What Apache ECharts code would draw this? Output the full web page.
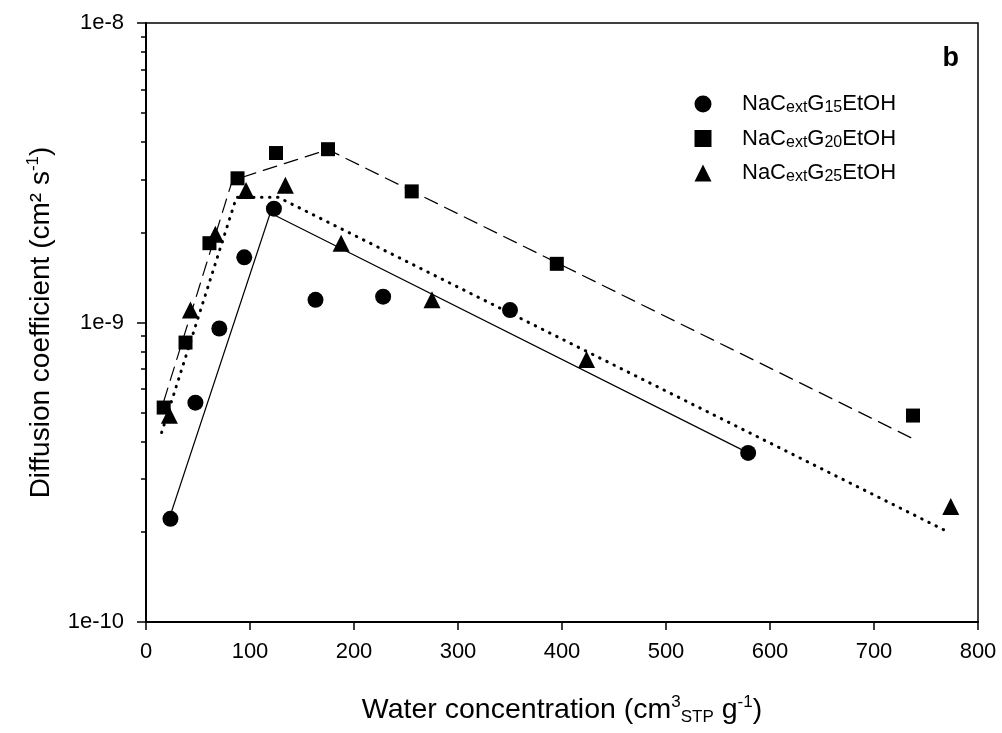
<!DOCTYPE html>
<html>
<head>
<meta charset="utf-8">
<title>Diffusion coefficient vs water concentration</title>
<script src="https://cdn.jsdelivr.net/npm/echarts@6/dist/echarts.min.js"></script>
<style>
  html, body { margin: 0; padding: 0; background: #fff; }
  #main { width: 1002px; height: 733px; }
</style>
</head>
<body>
<div id="main"></div>
<script>
// measured points (x: cm3 STP/g, y: cm2/s)
var g15X = [23.5, 47.5, 70.5, 94.5, 123, 163, 228, 350, 579];
var g15Y = [2.21e-10, 5.4e-10, 9.55e-10, 1.65e-9, 2.4e-9, 1.19e-9, 1.22e-9, 1.1e-9, 3.67e-10];
var g20X = [17, 38, 61, 88, 125, 175, 255.5, 395, 737.5];
var g20Y = [5.2e-10, 8.57e-10, 1.84e-9, 3.03e-9, 3.68e-9, 3.79e-9, 2.74e-9, 1.57e-9, 4.89e-10];
var g25X = [22.5, 42.7, 66.7, 96.2, 134, 187.6, 275, 423.6, 773.8];
var g25Y = [4.9e-10, 1.1e-9, 1.97e-9, 2.76e-9, 2.87e-9, 1.84e-9, 1.19e-9, 7.52e-10, 2.43e-10];

// fitted lines (break points)
var fit15X = [23, 119.5, 579];
var fit15Y = [2.25e-10, 2.32e-9, 3.67e-10];
var fit20X = [17, 83, 175, 737];
var fit20Y = [5.45e-10, 2.98e-9, 3.78e-9, 4.1e-10];
var fit25X = [15, 87, 127, 771];
var fit25Y = [4.29e-10, 2.62e-9, 2.62e-9, 2.0e-10];

var subs = ['15', '20', '25'];
var names = subs.map(function (s) { return 'NaCextG' + s + 'EtOH'; });
var minorTicks = [2e-10, 3e-10, 4e-10, 5e-10, 6e-10, 7e-10, 8e-10, 9e-10,
                  2e-9, 3e-9, 4e-9, 5e-9, 6e-9, 7e-9, 8e-9, 9e-9];

function pairs(xs, ys) {
  return xs.map(function (x, i) { return [x, ys[i]]; });
}

var chart = echarts.init(document.getElementById('main'));
var font = 'Liberation Sans, Arial, sans-serif';

var symbols = ['circle', 'rect', 'triangle'];
var symSizes = [16, 14, 17];
var pointSets = [pairs(g15X, g15Y), pairs(g20X, g20Y), pairs(g25X, g25Y)];
var fitSets = [pairs(fit15X, fit15Y), pairs(fit20X, fit20Y), pairs(fit25X, fit25Y)];
var lineTypes = ['solid', [14, 8], [0.5, 7.5]];
var lineWidths = [1.2, 1.2, 3];

var series = [];
fitSets.forEach(function (d, i) {
  series.push({
    type: 'line',
    data: d,
    symbol: 'none',
    silent: true,
    lineStyle: { color: '#000', width: lineWidths[i], type: lineTypes[i], cap: 'round' },
    z: 2
  });
});
pointSets.forEach(function (d, i) {
  series.push({
    name: names[i],
    type: 'scatter',
    data: d,
    symbol: symbols[i],
    symbolSize: symSizes[i],
    itemStyle: { color: '#000', opacity: 1 },
    z: 3
  });
});

// rich styles for the axis titles (28px text)
var titleRich = {
  sub: { fontSize: 17, fontFamily: font, color: '#000', lineHeight: 12, verticalAlign: 'bottom' },
  sup: { fontSize: 17, fontFamily: font, color: '#000', lineHeight: 14, verticalAlign: 'top' }
};

chart.setOption({
  backgroundColor: '#fff',
  animation: false,
  title: {
    text: 'b',
    right: 38,
    top: 40,
    textStyle: { fontSize: 27, fontWeight: 'bold', color: '#000', fontFamily: font }
  },
  grid: {
    left: 146, right: 24, top: 23, bottom: 111,
    show: true, borderColor: '#000', borderWidth: 1.5
  },
  legend: {
    orient: 'vertical',
    left: 689.5,
    top: 88,
    itemWidth: 17,
    itemHeight: 17,
    itemGap: 11.5,
    data: names.map(function (n, i) { return { name: n, icon: symbols[i] }; }),
    formatter: function (n) {
      var i = names.indexOf(n);
      return '{m|NaC}{sub|ext}{m|G}{sub|' + subs[i] + '}{m|EtOH}';
    },
    textStyle: {
      padding: [0, 0, 0, 25.5],
      rich: {
        m: { fontSize: 22, fontFamily: font, color: '#000', lineHeight: 24 },
        sub: { fontSize: 16, fontFamily: font, color: '#000', lineHeight: 11, verticalAlign: 'bottom' }
      }
    },
    itemStyle: { color: '#000', opacity: 1 }
  },
  xAxis: {
    type: 'value',
    min: 0, max: 800, interval: 100,
    name: 'Water concentration (cm{sup|3}{sub|STP} g{sup|-1})',
    nameLocation: 'middle',
    nameGap: 72,
    nameTextStyle: {
      fontSize: 28.5, fontFamily: font, color: '#000', lineHeight: 32,
      rich: titleRich
    },
    axisLine: { lineStyle: { color: '#000', width: 2 } },
    axisTick: { inside: false, length: 8, lineStyle: { color: '#000', width: 1.5 } },
    axisLabel: { fontSize: 22, fontFamily: font, color: '#000', margin: 19 },
    splitLine: { show: false }
  },
  yAxis: [{
    type: 'log',
    logBase: 10,
    min: 1e-10, max: 1e-8,
    name: 'Diffusion coefficient (cm² s{sup|-1})',
    nameLocation: 'middle',
    nameGap: 89,
    nameTextStyle: {
      fontSize: 28, fontFamily: font, color: '#000', lineHeight: 32,
      rich: titleRich
    },
    axisLine: { lineStyle: { color: '#000', width: 2 } },
    axisTick: { inside: false, length: 9, lineStyle: { color: '#000', width: 1.5 } },
    axisLabel: {
      fontSize: 22, fontFamily: font, color: '#000', margin: 22,
      formatter: function (v) { return '1e' + Math.round(Math.log10(v)); }
    },
    splitLine: { show: false }
  }, {
    type: 'log',
    logBase: 10,
    min: 1e-10, max: 1e-8,
    position: 'left',
    axisLine: { show: false },
    axisLabel: { show: false },
    axisTick: { show: true, length: 5, customValues: minorTicks, lineStyle: { color: '#000', width: 1.5 } },
    splitLine: { show: false }
  }],
  series: series
});
</script>
</body>
</html>
